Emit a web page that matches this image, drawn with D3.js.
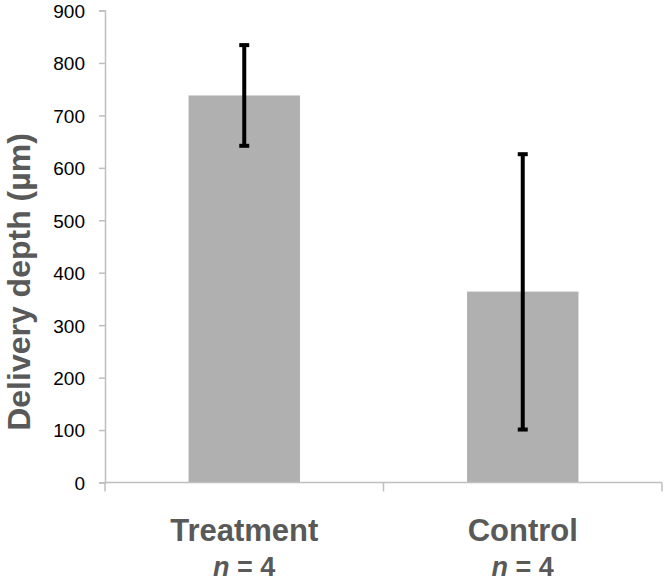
<!DOCTYPE html>
<html><head><meta charset="utf-8">
<script src="https://cdn.jsdelivr.net/npm/d3@7"></script>
<style>body{margin:0;background:#fff}svg{display:block}</style>
</head><body>
<script>
const categories = ["Treatment", "Control"];
const sampleSizes = ["4", "4"];
const means = [738, 364];
const errLow = [642, 101];
const errHigh = [834, 626];
const yTicks = [0,100,200,300,400,500,600,700,800,900];

const W = 664, H = 582;
const m = {left:105, right:2, top:10.5, bottom:100};
const svg = d3.select("body").append("svg").attr("width",W).attr("height",H);

const x = d3.scaleBand().domain(categories).range([m.left, W - m.right]).paddingInner(0.6).paddingOuter(0.3);
const y = d3.scaleLinear().domain([0,900]).range([482.5, m.top]);

// bars
svg.selectAll("rect.bar").data(categories).join("rect")
  .attr("x", d => x(d)).attr("width", x.bandwidth())
  .attr("y", (d,i) => y(means[i])).attr("height", (d,i) => y(0) - y(means[i]))
  .attr("fill", "#b0b0b0");

// y axis
const ya = svg.append("g").attr("transform", `translate(${m.left},0)`)
  .call(d3.axisLeft(y).tickValues(yTicks).tickSize(6).tickPadding(14).tickFormat(d3.format("d")));
ya.select(".domain").attr("stroke","#bfbfbf").attr("stroke-width",1.5);
ya.selectAll(".tick line").attr("stroke","#bfbfbf").attr("stroke-width",1.5);
ya.selectAll("text").attr("font-family","'Liberation Sans', Arial, sans-serif")
  .attr("font-size",19).attr("font-weight",400).attr("fill","#000").attr("dy","0.36em");

// x axis
const xa = svg.append("g").attr("transform", `translate(0,${y(0)})`);
xa.append("line").attr("x1", m.left).attr("x2", W - m.right).attr("stroke","#bfbfbf").attr("stroke-width",1.5);
const bounds = [m.left, (m.left + W - m.right)/2, W - m.right];
xa.selectAll("line.t").data(bounds).join("line").attr("class","t")
  .attr("x1", d => d).attr("x2", d => d).attr("y1", 0).attr("y2", 9)
  .attr("stroke","#bfbfbf").attr("stroke-width",1.5);

// error bars
const eg = svg.append("g").attr("stroke","#000");
categories.forEach((c,i) => {
  const cx = x(c) + x.bandwidth()/2;
  eg.append("line").attr("x1",cx).attr("x2",cx).attr("y1",y(errLow[i])).attr("y2",y(errHigh[i])).attr("stroke-width",4);
  [errLow[i], errHigh[i]].forEach(v => {
    eg.append("line").attr("x1",cx-5).attr("x2",cx+5).attr("y1",y(v)).attr("y2",y(v)).attr("stroke-width",4);
  });
});

// category labels
categories.forEach((c,i) => {
  const cx = x(c) + x.bandwidth()/2;
  svg.append("text").attr("x",cx).attr("y",541).attr("text-anchor","middle")
    .attr("font-family","'Liberation Sans', Arial, sans-serif").attr("font-weight","bold")
    .attr("font-size",31).attr("fill","#595959").text(c);
  const t = svg.append("text").attr("x",cx).attr("y",576).attr("text-anchor","middle")
    .attr("font-family","'Liberation Sans', Arial, sans-serif").attr("font-weight","bold")
    .attr("font-size",27).attr("fill","#595959");
  t.append("tspan").attr("font-style","italic").text("n");
  t.append("tspan").text(" = " + sampleSizes[i]);
});

// y title
svg.append("text").attr("transform","translate(30,282) rotate(-90)").attr("text-anchor","middle")
  .attr("font-family","'Liberation Sans', Arial, sans-serif").attr("font-weight","bold")
  .attr("font-size",32).attr("fill","#595959").text("Delivery depth (µm)");
</script>
</body></html>
